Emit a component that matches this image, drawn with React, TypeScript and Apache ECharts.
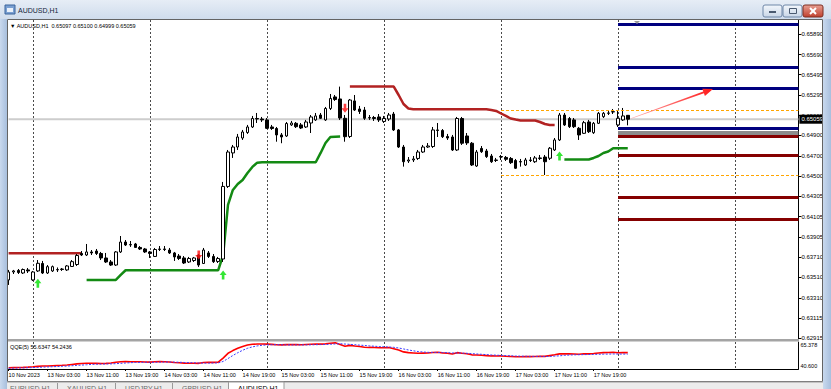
import React, { useEffect, useRef } from 'react';
import * as echarts from 'echarts';

// ---------- DATA ----------
const timeLabels = [
  '10 Nov 2023', '13 Nov 03:00', '13 Nov 11:00', '13 Nov 19:00', '14 Nov 03:00', '14 Nov 11:00',
  '14 Nov 19:00', '15 Nov 03:00', '15 Nov 11:00', '15 Nov 19:00', '16 Nov 03:00', '16 Nov 11:00',
  '16 Nov 19:00', '17 Nov 03:00', '17 Nov 11:00', '17 Nov 19:00',
];
const priceTicks = [
  0.6589, 0.6569, 0.65495, 0.65295, 0.65095, 0.649, 0.647, 0.645, 0.64305, 0.64105, 0.63905,
  0.6371, 0.6351, 0.6331, 0.63115, 0.62915,
];
const qqeTicks = [65.378, 40.6];

// [open, high, low, close]
const candles: number[][] = [
  [0.63486, 0.63584, 0.63437, 0.63564], [0.63564, 0.63584, 0.63544, 0.63574], [0.63579, 0.63593, 0.63544, 0.63559],
  [0.63554, 0.63598, 0.63544, 0.63588], [0.63584, 0.63603, 0.63554, 0.63574], [0.63486, 0.63574, 0.63476, 0.63564],
  [0.63574, 0.63681, 0.63564, 0.63649], [0.63647, 0.63672, 0.63544, 0.63554], [0.63554, 0.63632, 0.63544, 0.63616],
  [0.63574, 0.63627, 0.63564, 0.63616], [0.63584, 0.63608, 0.63564, 0.63588], [0.63588, 0.63603, 0.63574, 0.63593],
  [0.63584, 0.63632, 0.63574, 0.63623], [0.63618, 0.63681, 0.63613, 0.63665], [0.63637, 0.6374, 0.63623, 0.63725],
  [0.63745, 0.63769, 0.6372, 0.6373], [0.6373, 0.63838, 0.6372, 0.6376], [0.6376, 0.63779, 0.6373, 0.6375],
  [0.63769, 0.63789, 0.6373, 0.63745], [0.63745, 0.6376, 0.63681, 0.63701], [0.63701, 0.6375, 0.63652, 0.63662],
  [0.63662, 0.63681, 0.63623, 0.63632], [0.63632, 0.63769, 0.63623, 0.6376], [0.6376, 0.63916, 0.6375, 0.63857],
  [0.63857, 0.63877, 0.63818, 0.63828], [0.63828, 0.63867, 0.63809, 0.63833], [0.63838, 0.63848, 0.63799, 0.63804],
  [0.63804, 0.63818, 0.63779, 0.63789], [0.63789, 0.63799, 0.6375, 0.6376], [0.6376, 0.63769, 0.63701, 0.63745],
  [0.63716, 0.63799, 0.63711, 0.63784], [0.63784, 0.63818, 0.63769, 0.63789], [0.63789, 0.63818, 0.63769, 0.63784],
  [0.63779, 0.63799, 0.6374, 0.6375], [0.6375, 0.6376, 0.63672, 0.63711], [0.6372, 0.6374, 0.63681, 0.63696],
  [0.63701, 0.6372, 0.63642, 0.63652], [0.63662, 0.63711, 0.63652, 0.63696], [0.63676, 0.63711, 0.63662, 0.63701],
  [0.6373, 0.6374, 0.63613, 0.63632], [0.63647, 0.63799, 0.63642, 0.63779], [0.6375, 0.63769, 0.63701, 0.63716],
  [0.63716, 0.6374, 0.63652, 0.63665], [0.63667, 0.63711, 0.63652, 0.63696], [0.63691, 0.64445, 0.63662, 0.64401],
  [0.64401, 0.64758, 0.64386, 0.64738], [0.64729, 0.64807, 0.6468, 0.64787], [0.64787, 0.64915, 0.64758, 0.64885],
  [0.64875, 0.64954, 0.64856, 0.64934], [0.64929, 0.65003, 0.64915, 0.64983], [0.64983, 0.65091, 0.64973, 0.65066],
  [0.65066, 0.6512, 0.65022, 0.65061], [0.65061, 0.65081, 0.65032, 0.65052], [0.65052, 0.65071, 0.64963, 0.6497],
  [0.64983, 0.65003, 0.64954, 0.64968], [0.64968, 0.64983, 0.64839, 0.64905], [0.64905, 0.64924, 0.64824, 0.64885],
  [0.64895, 0.65032, 0.64885, 0.65017], [0.65003, 0.65042, 0.64993, 0.65022], [0.65019, 0.65032, 0.64973, 0.64986],
  [0.65003, 0.65022, 0.64963, 0.64973], [0.64983, 0.65052, 0.64973, 0.65032], [0.65022, 0.651, 0.64924, 0.65081],
  [0.65052, 0.6512, 0.65042, 0.65091], [0.651, 0.6512, 0.65061, 0.65068], [0.65052, 0.65179, 0.65042, 0.65164],
  [0.65164, 0.65306, 0.65149, 0.65262], [0.65277, 0.65296, 0.65238, 0.65252], [0.65257, 0.65378, 0.65052, 0.65071],
  [0.65068, 0.651, 0.64839, 0.64888], [0.6489, 0.65257, 0.64875, 0.65247], [0.65238, 0.65296, 0.6514, 0.65149],
  [0.65159, 0.65189, 0.6511, 0.65135], [0.65149, 0.65179, 0.65052, 0.65068], [0.65071, 0.651, 0.65052, 0.65076],
  [0.65076, 0.65091, 0.65042, 0.65066], [0.65081, 0.6511, 0.65032, 0.65052], [0.65037, 0.65091, 0.65022, 0.65066],
  [0.65061, 0.6512, 0.65042, 0.651], [0.6511, 0.6513, 0.64944, 0.64954], [0.64954, 0.64963, 0.64778, 0.64787],
  [0.64787, 0.64807, 0.64595, 0.64643], [0.6465, 0.64689, 0.64631, 0.6466], [0.6466, 0.64699, 0.6464, 0.6467],
  [0.64675, 0.64758, 0.6466, 0.64738], [0.64738, 0.64807, 0.64729, 0.64787], [0.64787, 0.64826, 0.64778, 0.64797],
  [0.64792, 0.64983, 0.64778, 0.64954], [0.64954, 0.65022, 0.64885, 0.64949], [0.64949, 0.64963, 0.64875, 0.64888],
  [0.6489, 0.64915, 0.64856, 0.64875], [0.64885, 0.64905, 0.64748, 0.64758], [0.64758, 0.65081, 0.64748, 0.65066],
  [0.65066, 0.65081, 0.64807, 0.64824], [0.64895, 0.64924, 0.64807, 0.64827], [0.64824, 0.64836, 0.64601, 0.64611],
  [0.64601, 0.64758, 0.64592, 0.64738], [0.64773, 0.64797, 0.64729, 0.64741], [0.64748, 0.64768, 0.6468, 0.64693],
  [0.64699, 0.64719, 0.64631, 0.64643], [0.64655, 0.6468, 0.6464, 0.6466], [0.64689, 0.64709, 0.6466, 0.64694],
  [0.64685, 0.64699, 0.6465, 0.64667], [0.64675, 0.64689, 0.64621, 0.64634], [0.64655, 0.6467, 0.64572, 0.64579],
  [0.6464, 0.6467, 0.64595, 0.64645], [0.64611, 0.6468, 0.64601, 0.6466], [0.6466, 0.64689, 0.6464, 0.64655],
  [0.64643, 0.64699, 0.64631, 0.6468], [0.6468, 0.64709, 0.6466, 0.64675], [0.64689, 0.64709, 0.64513, 0.64643],
  [0.64677, 0.64787, 0.6466, 0.64775], [0.64758, 0.64875, 0.64748, 0.64856], [0.64856, 0.6512, 0.64846, 0.651],
  [0.651, 0.6512, 0.64993, 0.65003], [0.65066, 0.65081, 0.64973, 0.64986], [0.65052, 0.65071, 0.64973, 0.64986],
  [0.6497, 0.64983, 0.64856, 0.64905], [0.64921, 0.65042, 0.64915, 0.65025], [0.65032, 0.65052, 0.64924, 0.64937],
  [0.64927, 0.65032, 0.64915, 0.65019], [0.65019, 0.6513, 0.65012, 0.65117], [0.65084, 0.6513, 0.65071, 0.65117],
  [0.65117, 0.6514, 0.651, 0.6512], [0.6513, 0.65159, 0.6511, 0.65133], [0.65003, 0.65149, 0.64983, 0.65068],
  [0.65052, 0.65169, 0.65042, 0.65091], [0.65097, 0.651, 0.64999, 0.65059],
];

const qqeMain = [
  41.8, 41.9, 42.0, 42.1, 42.3, 42.6, 43.0, 43.3, 43.4, 43.6, 43.8, 44.0, 44.3, 44.8, 45.3, 45.6,
  45.9, 45.9, 45.8, 45.7, 45.8, 46.1, 46.8, 47.3, 47.4, 47.3, 47.2, 47.2, 47.0, 46.9, 47.2, 47.4,
  47.3, 47.0, 46.6, 46.3, 46.0, 45.9, 45.9, 45.8, 46.6, 46.8, 46.7, 46.9, 50.6, 55.0, 57.5, 59.6,
  61.3, 62.6, 63.3, 63.5, 63.5, 63.4, 63.2, 62.8, 62.7, 63.0, 63.1, 63.0, 62.9, 63.1, 63.3, 63.4,
  63.4, 63.7, 64.3, 64.6, 63.0, 61.5, 62.3, 61.7, 61.2, 60.6, 60.4, 60.3, 60.1, 60.1, 60.3, 59.2,
  58.0, 56.3, 55.6, 55.3, 55.0, 55.2, 55.3, 55.8, 55.9, 55.4, 55.0, 54.3, 55.6, 55.0, 54.6, 53.6,
  53.5, 53.2, 52.9, 52.6, 52.5, 52.6, 52.3, 52.1, 51.8, 51.9, 52.0, 52.0, 52.1, 52.2, 52.2, 52.9,
  53.6, 54.5, 54.6, 54.5, 54.4, 54.2, 54.6, 54.5, 54.8, 55.3, 55.6, 55.8, 55.9, 55.5, 55.8, 55.63,
];
const qqeSignal = [
  41.2, 41.4, 41.5, 41.6, 41.8, 41.9, 42.1, 42.3, 42.5, 42.7, 42.9, 43.1, 43.3, 43.6, 43.9, 44.2,
  44.5, 44.8, 45.0, 45.1, 45.2, 45.3, 45.5, 45.8, 46.1, 46.4, 46.6, 46.7, 46.8, 46.8, 46.8, 46.9,
  47.0, 47.0, 46.9, 46.8, 46.6, 46.4, 46.3, 46.1, 46.0, 46.0, 46.1, 46.2, 47.5, 50.2, 53.0, 55.5,
  57.8, 59.6, 60.9, 61.8, 62.4, 62.7, 62.9, 62.9, 62.8, 62.7, 62.7, 62.7, 62.7, 62.7, 62.8, 62.9,
  63.0, 63.1, 63.3, 63.6, 63.8, 63.5, 63.2, 62.9, 62.5, 62.2, 61.8, 61.5, 61.2, 61.0, 60.8, 60.5,
  59.9, 59.0, 58.1, 57.3, 56.6, 56.2, 55.9, 55.8, 55.8, 55.7, 55.6, 55.3, 55.3, 55.2, 55.0, 54.7,
  54.4, 54.1, 53.8, 53.5, 53.3, 53.1, 52.9, 52.7, 52.5, 52.4, 52.3, 52.2, 52.2, 52.2, 52.1, 52.2,
  52.4, 52.7, 53.1, 53.4, 53.6, 53.7, 53.8, 53.9, 54.0, 54.1, 54.2, 54.3, 54.4, 54.3, 54.3, 54.24,
];

// trailing stop lines: [bar index, price]
const redTrailA = [[0, 0.63747], [15, 0.63747]];
const redTrailB = [
  [70, 0.65378], [79, 0.65378], [80, 0.65296], [81, 0.65208], [82, 0.65164], [83, 0.65156], [98, 0.65156],
  [99, 0.65149], [100, 0.6514], [101, 0.65115], [102, 0.65091], [103, 0.65066], [104, 0.65056], [105, 0.65047],
  [108, 0.65047], [109, 0.65032], [110, 0.65012], [111, 0.65003], [112, 0.65003],
];
const greenTrailA = [
  [16, 0.63486], [22, 0.63486], [23, 0.63535], [24, 0.63581], [43, 0.63581], [44, 0.6373], [45, 0.6422],
  [46, 0.64367], [47, 0.64425], [48, 0.64464], [49, 0.64533], [50, 0.64592], [51, 0.64634], [52, 0.64638],
  [63, 0.64638], [64, 0.64729], [65, 0.64826], [66, 0.64885], [68, 0.6489],
];
const greenTrailB = [
  [114, 0.64665], [119, 0.64665], [120, 0.6468], [121, 0.64699], [122, 0.64729], [123, 0.64743], [124, 0.64775],
  [127, 0.64775],
];
const buyArrows = [[6, 0.63453], [44, 0.63535], [113, 0.64699]];
const sellArrows = [[39, 0.6373], [69, 0.65166]];

const blueLevels = [0.65988, 0.65567, 0.65365, 0.6497];
const redLevels = [0.64895, 0.64702, 0.64291, 0.6408];
const grayLevels = [0.64927];
const orangeLevels = [0.65143, 0.64506];
const bidPrice = 0.65059;

const headerText = '\u25BC AUDUSD,H1  0.65097 0.65100 0.64999 0.65059';
const qqeText = 'QQE(5) 55.6347 54.2436';
const windowTitle = 'AUDUSD,H1';
const tabNames = ['EURUSD,H1', 'XAUUSD,H1', 'USDJPY,H1', 'GBPUSD,H1', 'AUDUSD,H1'];

const BAR_COUNT = 163;
const LEVEL_START = 125;
const ORANGE_START = 101;

const FONT = 'Liberation Sans, Arial, sans-serif';

export default function App() {
  const ref = useRef<HTMLDivElement>(null);

  useEffect(() => {
    document.body.style.margin = '0';
    if (!ref.current) return;
    const chart = echarts.init(ref.current, undefined, { renderer: 'svg' });

    const cats = Array.from({ length: BAR_COUNT }, (_, i) => String(i));
    const gridLineInterval = (i: number) => i >= 5 && (i - 5) % 24 === 0;
    const labelInterval = (i: number) => i % 8 === 0 && i / 8 < timeLabels.length;
    const splitLine = { show: true, interval: gridLineInterval, lineStyle: { color: '#4a4a4a', width: 1, type: [2, 2] } };

    const levelLine = (v: number, start: number, ls: any) => [
      { coord: [start, v], lineStyle: ls },
      { coord: [BAR_COUNT - 1, v] },
    ];
    const markData = [
      ...orangeLevels.map((v) => levelLine(v, ORANGE_START, { color: '#ffa500', width: 1, type: [3, 2] })),
      ...blueLevels.map((v) => levelLine(v, LEVEL_START, { color: '#00007f', width: 3, type: 'solid' })),
      ...grayLevels.map((v) => levelLine(v, LEVEL_START, { color: '#8c8c8c', width: 4, type: 'solid' })),
      ...redLevels.map((v) => levelLine(v, LEVEL_START, { color: '#850000', width: 3, type: 'solid' })),
    ];

    const titleGrad = {
      type: 'linear', x: 0, y: 0, x2: 0, y2: 1,
      colorStops: [{ offset: 0, color: '#e6edf6' }, { offset: 1, color: '#cfdcec' }],
    };
    const frameGrad = {
      type: 'linear', x: 0, y: 0, x2: 1, y2: 0,
      colorStops: [{ offset: 0, color: '#c9d9ee' }, { offset: 1, color: '#a8bfdd' }],
    };
    const btnGrad = {
      type: 'linear', x: 0, y: 0, x2: 0, y2: 1,
      colorStops: [{ offset: 0, color: '#f3f7fc' }, { offset: 1, color: '#c9d6e7' }],
    };
    const closeGrad = {
      type: 'linear', x: 0, y: 0, x2: 0, y2: 1,
      colorStops: [{ offset: 0, color: '#e8a093' }, { offset: 1, color: '#c0402d' }],
    };
    const arrowGrad = {
      type: 'linear', x: 0, y: 0, x2: 1, y2: 0,
      colorStops: [{ offset: 0, color: '#ffb0b0' }, { offset: 1, color: '#ff1a1a' }],
    };

    const tabX = [0, 57, 115, 172, 228, 284];

    const graphics: any[] = [
      // title bar
      { type: 'rect', shape: { x: 0, y: 0, width: 831, height: 19 }, style: { fill: titleGrad }, z: 100 },
      { type: 'rect', shape: { x: 5, y: 5, width: 10, height: 9 }, style: { fill: '#7aa0d2', stroke: '#3a659c', lineWidth: 1 }, z: 101 },
      { type: 'rect', shape: { x: 7, y: 8, width: 6, height: 4 }, style: { fill: '#eaf1fa' }, z: 102 },
      { type: 'text', x: 18, y: 10, style: { text: windowTitle, fontSize: 7, fontFamily: FONT, fill: '#15253a', verticalAlign: 'middle' }, z: 101 },
      // buttons
      { type: 'rect', shape: { x: 763, y: 5, width: 19, height: 12, r: 2 }, style: { fill: btnGrad, stroke: '#6f87a8', lineWidth: 1 }, z: 101 },
      { type: 'rect', shape: { x: 769, y: 11, width: 7, height: 2 }, style: { fill: '#4a5a70' }, z: 102 },
      { type: 'rect', shape: { x: 783, y: 5, width: 19, height: 12, r: 2 }, style: { fill: btnGrad, stroke: '#6f87a8', lineWidth: 1 }, z: 101 },
      { type: 'rect', shape: { x: 789.5, y: 8.5, width: 7, height: 5 }, style: { fill: 'none', stroke: '#4a5a70', lineWidth: 1 }, z: 102 },
      { type: 'rect', shape: { x: 803, y: 5, width: 20, height: 12, r: 2 }, style: { fill: closeGrad, stroke: '#7e2e22', lineWidth: 1 }, z: 101 },
      { type: 'line', shape: { x1: 810, y1: 8, x2: 816, y2: 14 }, style: { stroke: '#ffffff', lineWidth: 2 }, z: 102 },
      { type: 'line', shape: { x1: 816, y1: 8, x2: 810, y2: 14 }, style: { stroke: '#ffffff', lineWidth: 2 }, z: 102 },
      // side frames
      { type: 'rect', shape: { x: 0, y: 19, width: 7, height: 370 }, style: { fill: frameGrad }, z: 100 },
      { type: 'rect', shape: { x: 823, y: 19, width: 8, height: 370 }, style: { fill: frameGrad }, z: 100 },
      // chart border
      { type: 'rect', shape: { x: 7.5, y: 19.5, width: 815, height: 362 }, style: { fill: 'none', stroke: '#646464', lineWidth: 1 }, z: 100 },
      // separator between main and sub window
      { type: 'rect', shape: { x: 8, y: 339, width: 791, height: 2.5 }, style: { fill: '#a4a4a4' }, z: 100 },
      // tabs
      { type: 'rect', shape: { x: 7, y: 382, width: 816, height: 7 }, style: { fill: '#ececec' }, z: 100 },
      { type: 'line', shape: { x1: 7, y1: 382, x2: 823, y2: 382 }, style: { stroke: '#9a9a9a', lineWidth: 1 }, z: 101 },
      { type: 'rect', shape: { x: 228.5, y: 382, width: 55.5, height: 8 }, style: { fill: '#ffffff', stroke: '#9a9a9a', lineWidth: 1 }, z: 101 },
      ...tabX.slice(1, 4).map((x) => ({ type: 'line', shape: { x1: x + 0.5, y1: 383, x2: x + 0.5, y2: 389 }, style: { stroke: '#9a9a9a', lineWidth: 1 }, z: 101 })),
      ...tabNames.map((t, i) => ({
        type: 'text', x: tabX[i] + 10, y: 385,
        style: { text: t, fontSize: 7, fontFamily: FONT, fill: i === 4 ? '#000000' : '#6a6a6a', verticalAlign: 'top' }, z: 102,
      })),
      // header texts
      { type: 'text', x: 10, y: 25.5, style: { text: headerText, fontSize: 5.5, fontFamily: FONT, fill: '#000', verticalAlign: 'middle' }, z: 101 },
      { type: 'text', x: 10, y: 346.5, style: { text: qqeText, fontSize: 5.5, fontFamily: FONT, fill: '#000', verticalAlign: 'middle' }, z: 101 },
      // chart shift marker
      { type: 'polygon', shape: { points: [[634, 21], [640, 21], [637, 24]] }, style: { fill: '#9a9a9a' }, z: 101 },
      // drawn arrow object
      {
        type: 'polygon',
        shape: { points: [[630.9, 118.22], [703.26, 91.46], [702.3, 88.8], [713, 89], [704.9, 96.0], [703.94, 93.34], [631.1, 118.78]] },
        style: { fill: arrowGrad }, z: 101,
      },
    ];

    const option: any = {
      animation: false,
      backgroundColor: '#ffffff',
      textStyle: { fontFamily: FONT },
      grid: [
        { left: 8.6, right: 32.6, top: 20, height: 319 },
        { left: 8.6, right: 32.6, top: 342, height: 27 },
      ],
      xAxis: [
        {
          type: 'category', gridIndex: 0, data: cats, boundaryGap: false,
          axisLine: { show: false }, axisTick: { show: false }, axisLabel: { show: false }, splitLine,
        },
        {
          type: 'category', gridIndex: 1, data: cats, boundaryGap: false,
          axisLine: { show: true, lineStyle: { color: '#000', width: 1 } },
          axisTick: { show: true, interval: labelInterval, length: 2, lineStyle: { color: '#000' } },
          axisLabel: {
            show: true, interval: labelInterval, align: 'left', fontSize: 5.5, color: '#000', margin: 3,
            fontFamily: FONT, formatter: (_v: string, i: number) => timeLabels[i / 8] ?? '',
          },
          splitLine,
        },
      ],
      yAxis: [
        {
          type: 'value', gridIndex: 0, position: 'right', min: 0.62908, max: 0.6603,
          splitLine: { show: false },
          axisLine: { show: true, lineStyle: { color: '#000', width: 1 } },
          axisTick: { show: true, customValues: priceTicks, length: 3, lineStyle: { color: '#000' } },
          axisLabel: {
            customValues: priceTicks, fontSize: 6, color: '#000', margin: 3, fontFamily: FONT,
            formatter: (v: number) => v.toFixed(5),
          },
        },
        {
          type: 'value', gridIndex: 1, position: 'right', min: 40.6, max: 65.378,
          splitLine: { show: false },
          axisLine: { show: true, lineStyle: { color: '#000', width: 1 } },
          axisTick: { show: false },
          axisLabel: {
            customValues: qqeTicks, fontSize: 5.5, color: '#000', margin: 2, fontFamily: FONT,
            formatter: (v: number) => (Math.abs(v - qqeTicks[0]) < 0.01 ? `{t|${v.toFixed(3)}}` : `{b|${v.toFixed(3)}}`),
            rich: {
              t: { fontSize: 5.5, fontFamily: FONT, padding: [6, 0, 0, 0] },
              b: { fontSize: 5.5, fontFamily: FONT, padding: [0, 0, 6, 0] },
            },
          },
        },
      ],
      series: [
        {
          type: 'line', name: 'bid', xAxisIndex: 0, yAxisIndex: 0, z: 1, silent: true,
          data: [[0, bidPrice], [BAR_COUNT - 1, bidPrice]], symbol: 'none',
          lineStyle: { color: '#cdcdcd', width: 2 },
          endLabel: {
            show: true, formatter: () => bidPrice.toFixed(5), color: '#ffffff', backgroundColor: '#000000',
            fontSize: 6, fontFamily: FONT, padding: [2, 2, 1, 2], distance: 1,
          },
        },
        {
          type: 'line', name: 'levels', xAxisIndex: 0, yAxisIndex: 0, z: 4, data: [],
          markLine: { silent: true, symbol: ['none', 'none'], label: { show: false }, data: markData },
        },
        {
          type: 'candlestick', xAxisIndex: 0, yAxisIndex: 0, z: 3, barWidth: 3,
          data: candles.map((c) => [c[0], c[3], c[2], c[1]]),
          itemStyle: { color: '#ffffff', color0: '#000000', borderColor: '#000000', borderColor0: '#000000', borderWidth: 1 },
        },
        ...[redTrailA, redTrailB].map((d) => ({
          type: 'line', xAxisIndex: 0, yAxisIndex: 0, z: 2, data: d, symbol: 'none',
          lineStyle: { color: '#b22222', width: 2.5 },
        })),
        ...[greenTrailA, greenTrailB].map((d) => ({
          type: 'line', xAxisIndex: 0, yAxisIndex: 0, z: 2, data: d, symbol: 'none',
          lineStyle: { color: '#138a13', width: 2.5 },
        })),
        {
          type: 'scatter', xAxisIndex: 0, yAxisIndex: 0, z: 5, data: buyArrows,
          symbol: 'path://M4 0L8 5L5.5 5L5.5 10L2.5 10L2.5 5L0 5Z', symbolSize: [7, 9],
          itemStyle: { color: '#00e000' },
        },
        {
          type: 'scatter', xAxisIndex: 0, yAxisIndex: 0, z: 5, data: sellArrows,
          symbol: 'path://M2.5 0L5.5 0L5.5 5L8 5L4 10L0 5L2.5 5Z', symbolSize: [7, 9],
          itemStyle: { color: '#ff1010' },
        },
        {
          type: 'line', xAxisIndex: 1, yAxisIndex: 1, z: 3, data: qqeMain, symbol: 'none',
          lineStyle: { color: '#ff0000', width: 1.6 },
        },
        {
          type: 'line', xAxisIndex: 1, yAxisIndex: 1, z: 4, data: qqeSignal, symbol: 'none',
          lineStyle: { color: '#3b3bff', width: 1, type: [2, 1.5] },
        },
      ],
      graphic: { elements: graphics },
    };

    chart.setOption(option);
    return () => chart.dispose();
  }, []);

  return <div ref={ref} style={{ width: 831, height: 389 }} />;
}
